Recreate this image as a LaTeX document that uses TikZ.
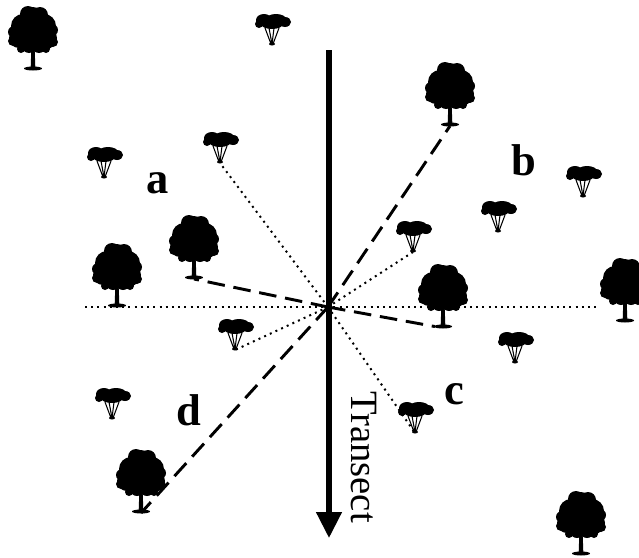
\documentclass[tikz,border=0pt]{standalone}
\usepackage{fontspec}
\setmainfont{Liberation Serif}
\usetikzlibrary{arrows.meta}

\tikzset{
  % leafy tree, origin at the foot of the trunk
  bigtree/.pic={
    \fill (0,-50) circle (13) (-10,-44) circle (12) (11,-44) circle (12)
          (-14,-32) circle (10) (13,-32) circle (11) (0,-36) circle (14)
          (-4,-24) circle (7) (6,-24) circle (7) (-19,-38) circle (6)
          (19,-40) circle (6) (-5,-56) circle (8) (7,-55) circle (8)
          (-20,-29) circle (5) (20,-28) circle (5) (-12,-21) circle (4)
          (13,-21) circle (4);
    \fill (-1.7,-20) -- (1.7,-20) -- (2.3,-3) -- (-2.3,-3) -- cycle;
    \fill (0,-1.5) ellipse (9 and 2);
  },
  % flat-topped tree with thin stems
  acacia/.pic={
    \fill (-8,-25) ellipse (8 and 6) (4,-26) ellipse (10 and 5)
          (13,-23) ellipse (6 and 5) (-13,-21) circle (4)
          (0,-21) ellipse (11 and 5);
    \draw[line width=0.9pt] (-7,-17) -- (-1,-1) (-3,-17) -- (0,-1)
          (2,-17) -- (0,-1) (7,-17) -- (1,-1);
    \fill (0,-1) ellipse (3 and 1.5);
  },
  farline/.style={line width=2.5pt, dash pattern=on 15pt off 7.5pt},
  nearline/.style={line width=1.7pt, dash pattern=on 1.7pt off 3.6pt},
  letter/.style={inner sep=0pt, font=\fontsize{38}{40}\selectfont\bfseries},
}

\begin{document}
\begin{tikzpicture}[x=0.03cm, y=-0.03cm]
\useasboundingbox (0,0) rectangle (639,558);

% tree positions
\coordinate (big1) at (33,70);
\coordinate (big2) at (450,126);
\coordinate (big3) at (194,279);
\coordinate (big4) at (117,307);
\coordinate (big5) at (443,328);
\coordinate (big6) at (625,322);
\coordinate (big7) at (141,513);
\coordinate (big8) at (581,555);
\coordinate (small1) at (272,45);
\coordinate (small2) at (104,178);
\coordinate (small3) at (220,163);
\coordinate (small4) at (583,197);
\coordinate (small5) at (498,232);
\coordinate (small6) at (413,252);
\coordinate (small7) at (235,350);
\coordinate (small8) at (515,363);
\coordinate (small9) at (112,419);
\coordinate (small10) at (415,433);
\coordinate (ctr) at (328,307);

\foreach \t in {1,...,8} \pic at (big\t) {bigtree};
\foreach \t in {1,...,10} \pic at (small\t) {acacia};

% cross line through the point
\coordinate (west) at (85,307);
\coordinate (east) at (596,307);
\draw[nearline] (west) -- (east);

% distances to the trees
\draw[farline] (ctr) -- (big2);
\draw[farline] (ctr) -- (big3);
\draw[farline, shorten >=7pt] (ctr) -- (big5);
\draw[farline] (ctr) -- (big7);
\draw[nearline] (ctr) -- (small3);
\draw[nearline] (ctr) -- (small6);
\draw[nearline] (ctr) -- (small7);
\draw[nearline] (ctr) -- (small10);

% the transect
\coordinate (start) at (329,50);
\coordinate (stop) at (329,538);
\draw[line width=4.3pt, -{Triangle[length=22pt, width=21pt]}] (start) -- (stop);
\node[rotate=-90, inner sep=0pt, font=\fontsize{33}{35}\selectfont] (tr) at (364,457) {Transect};

\node[letter] (la) at (158,183) {a};
\node[letter] (lb) at (524,160) {b};
\node[letter] (lc) at (454,394) {c};
\node[letter] (ld) at (189,410) {d};
\end{tikzpicture}
\end{document}
